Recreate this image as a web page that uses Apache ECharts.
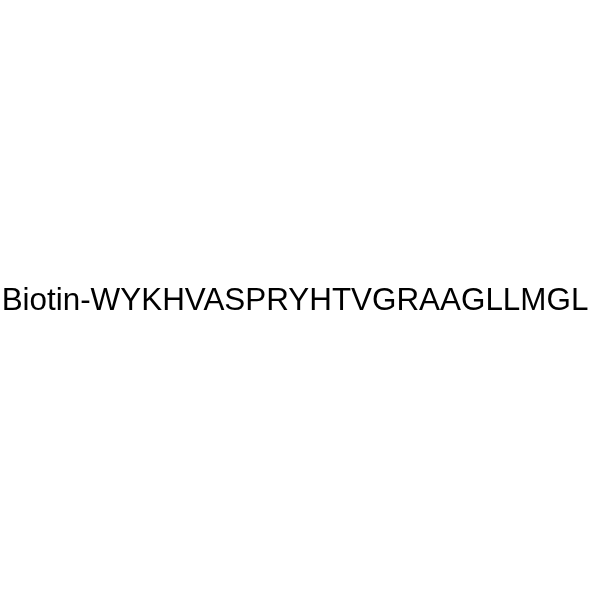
<!DOCTYPE html>
<html><head><meta charset="utf-8">
<script src="https://cdn.jsdelivr.net/npm/echarts@6/dist/echarts.min.js"></script>
<style>html,body{margin:0;padding:0;background:#fff}#c{width:600px;height:600px}</style>
</head><body><div id="c"></div>
<script>
const labels = ["Biotin-WYKHVASPRYHTVGRAAGLLMGL"];
const chart = echarts.init(document.getElementById('c'));
chart.setOption({
  backgroundColor: '#ffffff',
  animation: false,
  graphic: labels.map(t => ({
    type: 'text',
    x: 295, y: 301,
    style: {
      text: t,
      fill: '#000000',
      font: '31.4px "Liberation Sans", Arial, sans-serif',
      textAlign: 'center',
      textVerticalAlign: 'middle'
    }
  }))
});
</script></body></html>
